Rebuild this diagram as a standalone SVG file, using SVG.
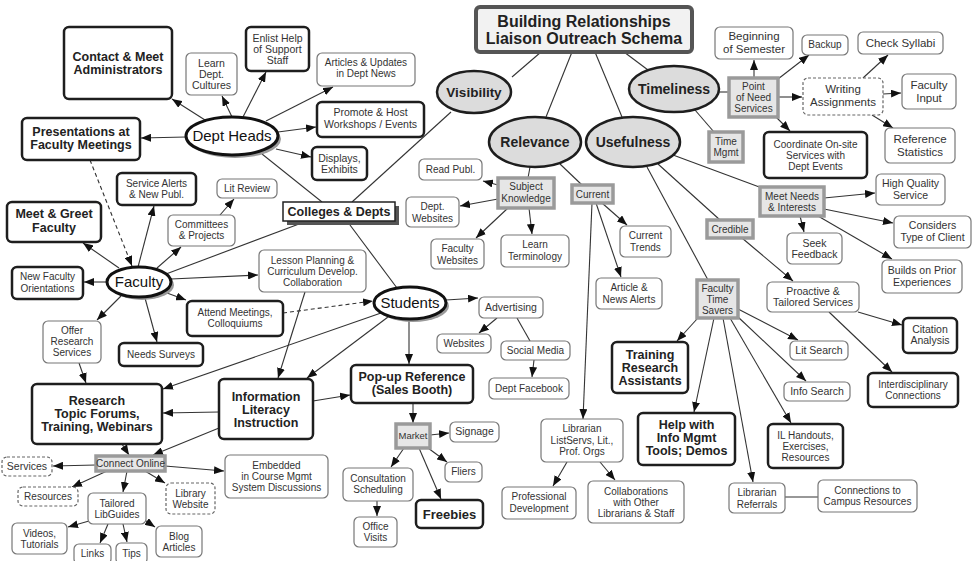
<svg xmlns="http://www.w3.org/2000/svg" width="976" height="561" viewBox="0 0 976 561">
<defs>
<style>
.thin{fill:#fff;stroke:#777;stroke-width:1.2}
.thick{fill:#fff;stroke:#1e1e1e;stroke-width:2.5}
.dash{fill:#fff;stroke:#666;stroke-width:1.2;stroke-dasharray:3 2}
.grey{fill:#e6e6e6;stroke:#9a9a9a;stroke-width:3.5}
.ge{fill:#dcdcdc;stroke:#1e1e1e;stroke-width:2.5}
.we{fill:#fff;stroke:#111;stroke-width:3}
.sh{fill:#9a9a9a}
text{font-family:"Liberation Sans",Arial,sans-serif;font-size:10px;fill:#333;text-anchor:middle}
.b{font-weight:bold;font-size:12.5px;fill:#222}
.m{font-size:10.5px}
.l{font-size:11.5px}
.e{font-size:15px;fill:#111}
.eb{font-weight:bold;font-size:14px;fill:#222}
#c line{stroke:#333;stroke-width:1.1}
#c .a{marker-end:url(#ah)}
#c .d{stroke-dasharray:4 3}
</style>
<marker id="ah" markerUnits="userSpaceOnUse" markerWidth="10" markerHeight="8" refX="10" refY="4" orient="auto"><path d="M0,0 L10,4 L0,8 z" fill="#111"/></marker>
</defs>
<rect width="976" height="561" fill="#fff"/>
<g id="c">
<line x1="541" y1="52" x2="512" y2="77"/>
<line x1="572" y1="52" x2="546" y2="117"/>
<line x1="595" y1="52" x2="622" y2="117"/>
<line x1="624" y1="52" x2="648" y2="70"/>
<line x1="262" y1="154" x2="322" y2="202"/>
<line x1="451" y1="112" x2="352" y2="202"/>
<line x1="307" y1="221" x2="166" y2="274"/>
<line x1="347" y1="221" x2="397" y2="288"/>
<line x1="517" y1="318" x2="530" y2="341"/>
<line x1="530" y1="167" x2="528" y2="178"/>
<line x1="560" y1="164" x2="582" y2="185"/>
<line x1="647" y1="167" x2="708" y2="280"/>
<line x1="658" y1="164" x2="720" y2="220"/>
<line x1="673" y1="155" x2="762" y2="188"/>
<line x1="719" y1="92" x2="729" y2="92"/>
<line x1="695" y1="110" x2="714" y2="132"/>
<line x1="785" y1="497" x2="818" y2="497"/>
<line class="a" x1="592" y1="203" x2="583" y2="419"/>
<line class="a" x1="205" y1="120" x2="172" y2="99"/>
<line class="a" x1="232" y1="117" x2="222" y2="96"/>
<line class="a" x1="243" y1="117" x2="266" y2="72"/>
<line class="a" x1="266" y1="121" x2="333" y2="87"/>
<line class="a" x1="278" y1="132" x2="316" y2="127"/>
<line class="a" x1="276" y1="149" x2="311" y2="157"/>
<line class="a" x1="186" y1="137" x2="141" y2="138"/>
<line class="a d" x1="90" y1="160" x2="132" y2="266"/>
<line class="a" x1="119" y1="268" x2="83" y2="243"/>
<line class="a" x1="138" y1="267" x2="154" y2="206"/>
<line class="a" x1="157" y1="268" x2="181" y2="247"/>
<line class="a" x1="220" y1="215" x2="234" y2="199"/>
<line class="a" x1="107" y1="282" x2="84" y2="282"/>
<line class="a" x1="121" y1="296" x2="97" y2="320"/>
<line class="a" x1="145" y1="298" x2="157" y2="342"/>
<line class="a" x1="167" y1="293" x2="186" y2="300"/>
<line class="a" x1="171" y1="279" x2="258" y2="275"/>
<line class="a d" x1="283" y1="313" x2="373" y2="301"/>
<line class="a" x1="305" y1="292" x2="278" y2="378"/>
<line class="a" x1="446" y1="300" x2="478" y2="298"/>
<line class="a" x1="497" y1="318" x2="479" y2="333"/>
<line class="a" x1="534" y1="360" x2="532" y2="377"/>
<line class="a" x1="409" y1="319" x2="409" y2="364"/>
<line class="a" x1="388" y1="317" x2="307" y2="378"/>
<line class="a" x1="381" y1="313" x2="163" y2="389"/>
<line class="a" x1="313" y1="401" x2="350" y2="395"/>
<line class="a" x1="219" y1="412" x2="163" y2="413"/>
<line class="a" x1="219" y1="428" x2="153" y2="455"/>
<line class="a" x1="79" y1="363" x2="86" y2="383"/>
<line class="a" x1="122" y1="444" x2="129" y2="455"/>
<line class="a" x1="96" y1="465" x2="53" y2="466"/>
<line class="a" x1="107" y1="471" x2="72" y2="487"/>
<line class="a" x1="127" y1="471" x2="123" y2="492"/>
<line class="a" x1="145" y1="471" x2="165" y2="483"/>
<line class="a" x1="165" y1="466" x2="224" y2="471"/>
<line class="a" x1="89" y1="521" x2="68" y2="527"/>
<line class="a" x1="108" y1="524" x2="100" y2="543"/>
<line class="a" x1="123" y1="524" x2="127" y2="542"/>
<line class="a" x1="146" y1="521" x2="155" y2="527"/>
<line class="a" x1="413" y1="403" x2="413" y2="423"/>
<line class="a" x1="430" y1="435" x2="449" y2="433"/>
<line class="a" x1="428" y1="448" x2="447" y2="462"/>
<line class="a" x1="419" y1="448" x2="441" y2="499"/>
<line class="a" x1="404" y1="448" x2="391" y2="467"/>
<line class="a" x1="377" y1="501" x2="377" y2="516"/>
<line class="a" x1="498" y1="185" x2="483" y2="181"/>
<line class="a" x1="498" y1="199" x2="460" y2="206"/>
<line class="a" x1="508" y1="208" x2="476" y2="238"/>
<line class="a" x1="529" y1="208" x2="532" y2="234"/>
<line class="a" x1="602" y1="203" x2="627" y2="225"/>
<line class="a" x1="596" y1="203" x2="621" y2="277"/>
<line class="a" x1="567" y1="462" x2="553" y2="486"/>
<line class="a" x1="600" y1="462" x2="615" y2="480"/>
<line class="a" x1="824" y1="198" x2="875" y2="193"/>
<line class="a" x1="824" y1="209" x2="893" y2="223"/>
<line class="a" x1="818" y1="216" x2="892" y2="259"/>
<line class="a" x1="800" y1="216" x2="804" y2="232"/>
<line class="a" x1="742" y1="238" x2="793" y2="281"/>
<line class="a" x1="858" y1="312" x2="902" y2="325"/>
<line class="a" x1="829" y1="312" x2="892" y2="372"/>
<line class="a" x1="697" y1="319" x2="677" y2="341"/>
<line class="a" x1="738" y1="309" x2="798" y2="340"/>
<line class="a" x1="737" y1="316" x2="806" y2="381"/>
<line class="a" x1="730" y1="318" x2="791" y2="423"/>
<line class="a" x1="714" y1="318" x2="694" y2="412"/>
<line class="a" x1="723" y1="318" x2="753" y2="482"/>
<line class="a" x1="754" y1="78" x2="754" y2="60"/>
<line class="a" x1="778" y1="79" x2="809" y2="55"/>
<line class="a" x1="778" y1="97" x2="802" y2="97"/>
<line class="a" x1="776" y1="117" x2="790" y2="131"/>
<line class="a" x1="863" y1="78" x2="888" y2="55"/>
<line class="a" x1="883" y1="94" x2="901" y2="93"/>
<line class="a" x1="872" y1="115" x2="893" y2="128"/>
</g>

<g id="title"><rect x="476" y="7" width="216" height="45" rx="4" fill="#f2f2f2" stroke="#555" stroke-width="4"/><text class="b" style="font-size:16px" x="584" y="27">Building Relationships</text><text class="b" style="font-size:16px" x="584" y="44">Liaison Outreach Schema</text></g>
<g id="visibility"><ellipse class="ge" cx="474" cy="92" rx="37" ry="21"/><text class="eb" style="font-size:13.5px" x="474" y="97">Visibility</text></g>
<g id="relevance"><ellipse class="ge" cx="535" cy="142" rx="46" ry="25"/><text class="eb" x="535" y="147">Relevance</text></g>
<g id="usefulness"><ellipse class="ge" cx="633" cy="142" rx="47" ry="25"/><text class="eb" x="633" y="147">Usefulness</text></g>
<g id="timeliness"><ellipse class="ge" cx="674" cy="89" rx="45" ry="23"/><text class="eb" x="674" y="94">Timeliness</text></g>
<g id="deptheads"><ellipse class="sh" cx="235" cy="139" rx="46" ry="19"/><ellipse class="we" cx="232" cy="136" rx="46" ry="19"/><text class="e" x="232" y="141">Dept Heads</text></g>
<g id="faculty"><ellipse class="sh" cx="142" cy="285" rx="32" ry="15"/><ellipse class="we" cx="139" cy="282" rx="32" ry="15"/><text class="e" x="139" y="287">Faculty</text></g>
<g id="students"><ellipse class="sh" cx="413" cy="306" rx="36" ry="16"/><ellipse class="we" cx="410" cy="303" rx="36" ry="16"/><text class="e" x="410" y="308">Students</text></g>

<g id="contact"><rect class="thick" x="64" y="27" width="108" height="72" rx="5"/><text class="b" x="118" y="61">Contact &amp; Meet</text><text class="b" x="118" y="74">Administrators</text></g>
<g id="learn"><rect class="thin" x="186" y="53" width="51" height="42" rx="5"/><text class="m" x="211.5" y="67">Learn</text><text class="m" x="211.5" y="78">Dept.</text><text class="m" x="211.5" y="89">Cultures</text></g>
<g id="enlist"><rect class="thick" x="246" y="27" width="63" height="44" rx="5"/><text class="m" x="277.5" y="42">Enlist Help</text><text class="m" x="277.5" y="53">of Support</text><text class="m" x="277.5" y="64">Staff</text></g>
<g id="articles"><rect class="thin" x="317" y="53" width="98" height="33" rx="5"/><text x="366" y="66">Articles &amp; Updates</text><text x="366" y="77">in Dept News</text></g>
<g id="promote"><rect class="thick" x="317" y="102" width="107" height="35" rx="5"/><text class="m" x="370.5" y="116">Promote &amp; Host</text><text class="m" x="370.5" y="128">Workshops / Events</text></g>
<g id="displays"><rect class="thick" x="312" y="147" width="55" height="33" rx="5"/><text class="m" x="339.5" y="162">Displays,</text><text class="m" x="339.5" y="173">Exhibits</text></g>
<g id="presentations"><rect class="thick" x="22" y="118" width="118" height="42" rx="5"/><text class="b" x="81" y="136">Presentations at</text><text class="b" x="81" y="149">Faculty Meetings</text></g>
<g id="colleges"><rect x="287" y="206" width="112" height="19" fill="#555"/><rect x="283" y="202" width="112" height="19" fill="#fff" stroke="#222" stroke-width="1.5"/><text class="b" x="339" y="216">Colleges &amp; Depts</text></g>
<g id="meetgreet"><rect class="thick" x="7" y="202" width="94" height="40" rx="5"/><text class="b" x="54" y="218">Meet &amp; Greet</text><text class="b" x="54" y="232">Faculty</text></g>
<g id="servicealerts"><rect class="thick" x="117" y="173" width="79" height="32" rx="5"/><text x="156.5" y="187">Service Alerts</text><text x="156.5" y="198">&amp; New Publ.</text></g>
<g id="committees"><rect class="thin" x="168" y="215" width="67" height="31" rx="5"/><text x="201.5" y="228">Committees</text><text x="201.5" y="239">&amp; Projects</text></g>
<g id="litreview"><rect class="thin" x="217" y="179" width="60" height="19" rx="5"/><text x="247" y="192">Lit Review</text></g>
<g id="newfac"><rect class="thick" x="12" y="267" width="71" height="32" rx="5"/><text x="47.5" y="280">New Faculty</text><text x="47.5" y="292">Orientations</text></g>
<g id="offer"><rect class="thin" x="43" y="321" width="58" height="42" rx="5"/><text x="72" y="334">Offer</text><text x="72" y="345">Research</text><text x="72" y="356">Services</text></g>
<g id="needs"><rect class="thick" x="119" y="343" width="84" height="23" rx="5"/><text x="161" y="358">Needs Surveys</text></g>
<g id="attend"><rect class="thick" x="187" y="301" width="96" height="35" rx="5"/><text x="235" y="316">Attend Meetings,</text><text x="235" y="327">Colloquiums</text></g>
<g id="lesson"><rect class="thin" x="259" y="250" width="107" height="42" rx="5"/><text x="312.5" y="264">Lesson Planning &amp;</text><text x="312.5" y="275">Curriculum Develop.</text><text x="312.5" y="286">Collaboration</text></g>
<g id="advertising"><rect class="thin" x="479" y="297" width="64" height="21" rx="5"/><text class="m" x="511" y="311">Advertising</text></g>
<g id="websites"><rect class="thin" x="437" y="334" width="54" height="19" rx="5"/><text x="464" y="347">Websites</text></g>
<g id="socialmedia"><rect class="thin" x="501" y="341" width="69" height="19" rx="5"/><text x="535.5" y="354">Social Media</text></g>
<g id="deptfacebook"><rect class="thin" x="489" y="378" width="80" height="21" rx="5"/><text x="529" y="392">Dept Facebook</text></g>
<g id="popup"><rect class="thick" x="351" y="365" width="122" height="38" rx="5"/><text class="b" x="412" y="381">Pop-up Reference</text><text class="b" x="412" y="394">(Sales Booth)</text></g>
<g id="infolit"><rect class="thick" x="219" y="379" width="94" height="60" rx="5"/><text class="b" x="266" y="401">Information</text><text class="b" x="266" y="414">Literacy</text><text class="b" x="266" y="427">Instruction</text></g>
<g id="research"><rect class="thick" x="32" y="384" width="130" height="60" rx="5"/><text class="b" x="97" y="405">Research</text><text class="b" x="97" y="418">Topic Forums,</text><text class="b" x="97" y="431">Training, Webinars</text></g>
<g id="connect"><rect class="grey" x="96" y="456" width="69" height="15"/><text x="130.5" y="467">Connect Online</text></g>
<g id="services"><rect class="dash" x="2" y="457" width="50" height="19" rx="5"/><text class="m" x="27" y="470">Services</text></g>
<g id="resources"><rect class="dash" x="18" y="487" width="60" height="19" rx="5"/><text x="48" y="500">Resources</text></g>
<g id="libguides"><rect class="thin" x="88" y="493" width="58" height="31" rx="5"/><text x="117" y="507">Tailored</text><text x="117" y="518">LibGuides</text></g>
<g id="libwebsite"><rect class="dash" x="166" y="483" width="49" height="31" rx="5"/><text x="190.5" y="497">Library</text><text x="190.5" y="508">Website</text></g>
<g id="embedded"><rect class="thin" x="225" y="455" width="103" height="43" rx="5"/><text x="276.5" y="469">Embedded</text><text x="276.5" y="480">in Course Mgmt</text><text x="276.5" y="491">System Discussions</text></g>
<g id="videos"><rect class="thin" x="12" y="523" width="55" height="31" rx="5"/><text x="39.5" y="537">Videos,</text><text x="39.5" y="548">Tutorials</text></g>
<g id="links"><rect class="thin" x="74" y="544" width="37" height="20" rx="5"/><text x="92.5" y="557">Links</text></g>
<g id="tips"><rect class="thin" x="116" y="543" width="31" height="21" rx="5"/><text x="131.5" y="557">Tips</text></g>
<g id="blog"><rect class="thin" x="156" y="526" width="46" height="31" rx="5"/><text x="179" y="540">Blog</text><text x="179" y="551">Articles</text></g>
<g id="market"><rect class="grey" x="396" y="424" width="34" height="24"/><text style="font-size:9.5px" x="413" y="439">Market</text></g>
<g id="signage"><rect class="thin" x="450" y="422" width="49" height="20" rx="5"/><text class="m" x="474.5" y="435">Signage</text></g>
<g id="fliers"><rect class="thin" x="445" y="462" width="37" height="20" rx="5"/><text x="463.5" y="475">Fliers</text></g>
<g id="freebies"><rect class="thick" x="416" y="500" width="67" height="28" rx="5"/><text class="b" style="font-size:13px" x="449.5" y="519">Freebies</text></g>
<g id="consult"><rect class="thin" x="343" y="468" width="70" height="33" rx="5"/><text x="378" y="482">Consultation</text><text x="378" y="493">Scheduling</text></g>
<g id="office"><rect class="thin" x="354" y="517" width="43" height="30" rx="5"/><text x="375.5" y="530">Office</text><text x="375.5" y="541">Visits</text></g>
<g id="readpubl"><rect class="thin" x="419" y="159" width="63" height="21" rx="5"/><text x="450.5" y="173">Read Publ.</text></g>
<g id="subject"><rect class="grey" x="498" y="178" width="56" height="30"/><text x="526" y="190">Subject</text><text x="526" y="202">Knowledge</text></g>
<g id="deptweb"><rect class="thin" x="406" y="197" width="53" height="30" rx="5"/><text x="432.5" y="210">Dept.</text><text x="432.5" y="222">Websites</text></g>
<g id="facweb"><rect class="thin" x="431" y="239" width="53" height="30" rx="5"/><text x="457.5" y="252">Faculty</text><text x="457.5" y="264">Websites</text></g>
<g id="learnterm"><rect class="thin" x="501" y="235" width="68" height="32" rx="5"/><text x="535" y="248">Learn</text><text x="535" y="260">Terminology</text></g>
<g id="current"><rect class="grey" x="572" y="185" width="41" height="18"/><text x="592.5" y="198">Current</text></g>
<g id="curtrends"><rect class="thin" x="620" y="226" width="51" height="31" rx="5"/><text x="645.5" y="239">Current</text><text x="645.5" y="251">Trends</text></g>
<g id="article"><rect class="thin" x="596" y="278" width="66" height="31" rx="5"/><text x="629" y="291">Article &amp;</text><text x="629" y="303">News Alerts</text></g>
<g id="listservs"><rect class="thin" x="541" y="419" width="82" height="43" rx="5"/><text x="582" y="432">Librarian</text><text x="582" y="444">ListServs, Lit.,</text><text x="582" y="455">Prof. Orgs</text></g>
<g id="profdev"><rect class="thin" x="502" y="487" width="74" height="32" rx="5"/><text x="539" y="500">Professional</text><text x="539" y="512">Development</text></g>
<g id="collab"><rect class="thin" x="588" y="481" width="96" height="42" rx="5"/><text x="636" y="495">Collaborations</text><text x="636" y="506">with Other</text><text x="636" y="517">Librarians &amp; Staff</text></g>
<g id="timesavers"><rect class="grey" x="697" y="280" width="41" height="38"/><text x="717.5" y="292">Faculty</text><text x="717.5" y="303">Time</text><text x="717.5" y="314">Savers</text></g>
<g id="credible"><rect class="grey" x="707" y="220" width="46" height="18"/><text x="730" y="233">Credible</text></g>
<g id="meetneeds"><rect class="grey" x="760" y="187" width="64" height="29"/><text x="792" y="200">Meet Needs</text><text x="792" y="211">&amp; Interests</text></g>
<g id="highquality"><rect class="thin" x="876" y="174" width="69" height="31" rx="5"/><text class="m" x="910.5" y="187">High Quality</text><text class="m" x="910.5" y="199">Service</text></g>
<g id="considers"><rect class="thin" x="894" y="216" width="77" height="32" rx="5"/><text class="m" x="932.5" y="229">Considers</text><text class="m" x="932.5" y="241">Type of Client</text></g>
<g id="builds"><rect class="thin" x="882" y="260" width="80" height="33" rx="5"/><text class="m" x="922" y="274">Builds on Prior</text><text class="m" x="922" y="286">Experiences</text></g>
<g id="seek"><rect class="thin" x="787" y="233" width="55" height="31" rx="5"/><text class="m" x="814.5" y="247">Seek</text><text class="m" x="814.5" y="258">Feedback</text></g>
<g id="proactive"><rect class="thin" x="767" y="282" width="92" height="30" rx="5"/><text class="m" x="813" y="295">Proactive &amp;</text><text class="m" x="813" y="306">Tailored Services</text></g>
<g id="citation"><rect class="thick" x="903" y="318" width="54" height="35" rx="5"/><text class="m" x="930" y="333">Citation</text><text class="m" x="930" y="344">Analysis</text></g>
<g id="interdisc"><rect class="thick" x="868" y="373" width="90" height="34" rx="5"/><text x="913" y="388">Interdisciplinary</text><text x="913" y="399">Connections</text></g>
<g id="training"><rect class="thick" x="612" y="342" width="76" height="51" rx="5"/><text class="b" x="650" y="359">Training</text><text class="b" x="650" y="372">Research</text><text class="b" x="650" y="385">Assistants</text></g>
<g id="litsearch"><rect class="thin" x="790" y="341" width="58" height="19" rx="5"/><text class="m" x="819" y="354">Lit Search</text></g>
<g id="infosearch"><rect class="thin" x="784" y="382" width="66" height="19" rx="5"/><text class="m" x="817" y="395">Info Search</text></g>
<g id="ilhandouts"><rect class="thick" x="768" y="424" width="75" height="44" rx="5"/><text x="805.5" y="439">IL Handouts,</text><text x="805.5" y="450">Exercises,</text><text x="805.5" y="461">Resources</text></g>
<g id="helpinfo"><rect class="thick" x="638" y="413" width="97" height="52" rx="5"/><text class="b" x="686.5" y="429">Help with</text><text class="b" x="686.5" y="442">Info Mgmt</text><text class="b" x="686.5" y="455">Tools; Demos</text></g>
<g id="libref"><rect class="thin" x="729" y="483" width="56" height="30" rx="5"/><text x="757" y="496">Librarian</text><text x="757" y="508">Referrals</text></g>
<g id="campus"><rect class="thin" x="818" y="480" width="99" height="32" rx="5"/><text x="867.5" y="494">Connections to</text><text x="867.5" y="505">Campus Resources</text></g>
<g id="pointofneed"><rect class="grey" x="729" y="78" width="49" height="39"/><text x="753.5" y="90">Point</text><text x="753.5" y="101">of Need</text><text x="753.5" y="112">Services</text></g>
<g id="timemgmt"><rect class="grey" x="709" y="132" width="34" height="30"/><text x="726" y="145">Time</text><text x="726" y="156">Mgmt</text></g>
<g id="beginning"><rect class="thin" x="715" y="27" width="78" height="32" rx="5"/><text class="l" x="754" y="40">Beginning</text><text class="l" x="754" y="53">of Semester</text></g>
<g id="backup"><rect class="thin" x="802" y="35" width="46" height="20" rx="5"/><text x="825" y="48">Backup</text></g>
<g id="writing"><rect class="dash" x="803" y="78" width="80" height="37" rx="5"/><text class="l" x="843" y="93">Writing</text><text class="l" x="843" y="106">Assignments</text></g>
<g id="checksyllabi"><rect class="thin" x="858" y="32" width="85" height="22" rx="5"/><text class="l" x="900.5" y="47">Check Syllabi</text></g>
<g id="facultyinput"><rect class="thin" x="902" y="74" width="54" height="35" rx="5"/><text class="l" x="929" y="89">Faculty</text><text class="l" x="929" y="102">Input</text></g>
<g id="refstats"><rect class="thin" x="885" y="128" width="70" height="35" rx="5"/><text class="l" x="920" y="143">Reference</text><text class="l" x="920" y="156">Statistics</text></g>
<g id="coordinate"><rect class="thick" x="764" y="132" width="103" height="46" rx="5"/><text x="815.5" y="148">Coordinate On-site</text><text x="815.5" y="159">Services with</text><text x="815.5" y="170">Dept Events</text></g>
</svg>
